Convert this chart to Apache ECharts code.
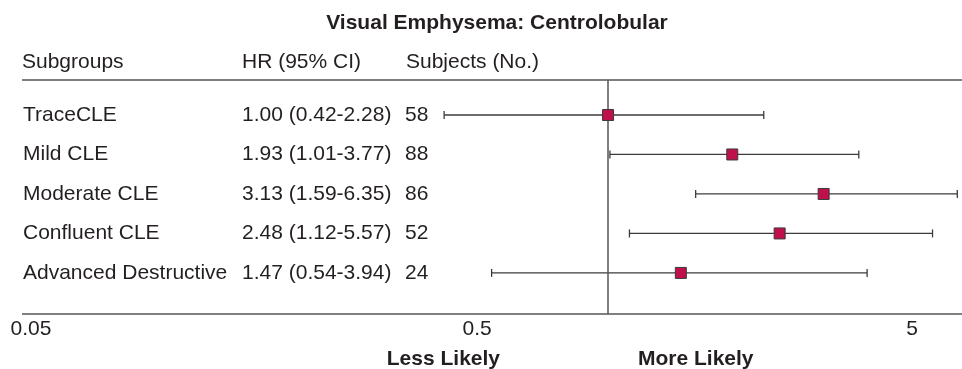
<!DOCTYPE html>
<html>
<head>
<meta charset="utf-8">
<script src="https://cdn.jsdelivr.net/npm/echarts@6/dist/echarts.min.js"></script>
<style>
  html, body { margin: 0; padding: 0; background: #ffffff; }
  #chart { width: 962px; height: 369px; }
</style>
</head>
<body>
<div id="chart"></div>
<script>
// Subgroup rows of the forest plot
const subgroups = ['TraceCLE', 'Mild CLE', 'Moderate CLE', 'Confluent CLE', 'Advanced Destructive'];
const hazardRatio = [1.00, 1.93, 3.13, 2.48, 1.47];
const ciLow = [0.42, 1.01, 1.59, 1.12, 0.54];
const ciHigh = [2.28, 3.77, 6.35, 5.57, 3.94];
const subjects = [58, 88, 86, 52, 24];
const tickValues = [0.05, 0.5, 5];

const FONT = '"Liberation Sans", Arial, Helvetica, sans-serif';
const TEXT_COLOR = '#231f20';
const LINE_COLOR = '#555555';
const X_MIN = 0.05;
const X_MAX = 6.51;

const fmtHR = (i) => hazardRatio[i].toFixed(2) + ' (' + ciLow[i].toFixed(2) + '-' + ciHigh[i].toFixed(2) + ')';

const chart = echarts.init(document.getElementById('chart'));

chart.setOption({
  backgroundColor: '#ffffff',
  animation: false,
  grid: { left: 42, right: 0, top: 80, bottom: 55 },
  xAxis: {
    type: 'log',
    logBase: 10,
    min: X_MIN,
    max: X_MAX,
    axisLine: { show: false },
    axisTick: { show: false },
    splitLine: { show: false },
    axisLabel: {
      customValues: tickValues,
      formatter: (v) => {
        const s = String(Number(v.toPrecision(3)));
        // first label sits a little left of its tick so it stays inside the frame
        return v === tickValues[0] ? '{first|' + s + '}' : s;
      },
      rich: {
        first: { fontFamily: FONT, fontSize: 21, color: TEXT_COLOR, padding: [0, 22, 0, 0] }
      },
      fontFamily: FONT,
      fontSize: 21,
      color: TEXT_COLOR,
      margin: 5
    }
  },
  yAxis: {
    type: 'value',
    inverse: true,
    min: -0.886,
    max: 5.04,
    show: false
  },
  graphic: [
    { type: 'line', shape: { x1: 22, y1: 80, x2: 962, y2: 80 }, style: { stroke: LINE_COLOR, lineWidth: 1.5 } },
    { type: 'line', shape: { x1: 22, y1: 314, x2: 962, y2: 314 }, style: { stroke: LINE_COLOR, lineWidth: 1.5 } },
    { type: 'text', x: 497, y: 23, style: { text: 'Visual Emphysema: Centrolobular', font: 'bold 21px ' + FONT, fill: TEXT_COLOR, align: 'center', verticalAlign: 'middle' } },
    { type: 'text', x: 22, y: 62, style: { text: 'Subgroups', font: '21px ' + FONT, fill: TEXT_COLOR, verticalAlign: 'middle' } },
    { type: 'text', x: 242, y: 62, style: { text: 'HR (95% CI)', font: '21px ' + FONT, fill: TEXT_COLOR, verticalAlign: 'middle' } },
    { type: 'text', x: 406, y: 62, style: { text: 'Subjects (No.)', font: '21px ' + FONT, fill: TEXT_COLOR, verticalAlign: 'middle' } },
    { type: 'text', x: 500, y: 359, style: { text: 'Less Likely', font: 'bold 21px ' + FONT, fill: TEXT_COLOR, align: 'right', verticalAlign: 'middle' } },
    { type: 'text', x: 638, y: 359, style: { text: 'More Likely', font: 'bold 21px ' + FONT, fill: TEXT_COLOR, align: 'left', verticalAlign: 'middle' } }
  ],
  series: [
    {
      // text columns: subgroup, HR (95% CI), subjects
      type: 'custom',
      name: 'rows',
      silent: true,
      data: subgroups.map((s, i) => [X_MIN, i]),
      renderItem: (params, api) => {
        const i = params.dataIndex;
        const y = api.coord([X_MIN, i])[1];
        const base = { font: '21px ' + FONT, fill: TEXT_COLOR, verticalAlign: 'middle' };
        return {
          type: 'group',
          children: [
            { type: 'text', x: 23, y: y, style: Object.assign({ text: subgroups[i] }, base) },
            { type: 'text', x: 242, y: y, style: Object.assign({ text: fmtHR(i) }, base) },
            { type: 'text', x: 405, y: y, style: Object.assign({ text: String(subjects[i]) }, base) }
          ]
        };
      }
    },
    {
      // confidence interval whiskers
      type: 'custom',
      name: 'ci',
      silent: true,
      data: subgroups.map((s, i) => [ciLow[i], ciHigh[i], i]),
      renderItem: (params, api) => {
        const lo = api.coord([api.value(0), api.value(2)]);
        const hi = api.coord([api.value(1), api.value(2)]);
        const cap = 4;
        const st = { stroke: '#3c3c3c', lineWidth: 1.3 };
        return {
          type: 'group',
          children: [
            { type: 'line', shape: { x1: lo[0], y1: lo[1], x2: hi[0], y2: hi[1] }, style: st },
            { type: 'line', shape: { x1: lo[0], y1: lo[1] - cap, x2: lo[0], y2: lo[1] + cap }, style: st },
            { type: 'line', shape: { x1: hi[0], y1: hi[1] - cap, x2: hi[0], y2: hi[1] + cap }, style: st }
          ]
        };
      }
    },
    {
      type: 'scatter',
      name: 'HR',
      symbol: 'rect',
      symbolSize: 11,
      z: 5,
      data: hazardRatio.map((v, i) => [v, i]),
      itemStyle: { color: '#c0104c', borderColor: '#3a3a3a', borderWidth: 1, opacity: 1 },
      markLine: {
        silent: true,
        symbol: 'none',
        label: { show: false },
        lineStyle: { color: LINE_COLOR, type: 'solid', width: 1.5 },
        data: [{ xAxis: 1 }]
      }
    }
  ]
});
</script>
</body>
</html>
